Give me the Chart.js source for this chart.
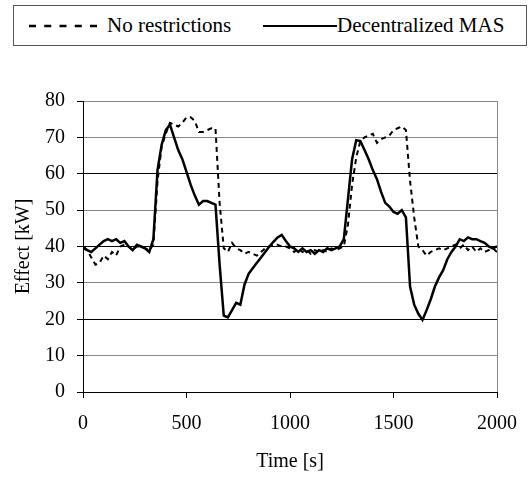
<!DOCTYPE html>
<html><head><meta charset="utf-8">
<script src="https://cdn.jsdelivr.net/npm/chart.js@4/dist/chart.umd.min.js"></script>
<style>
html,body{margin:0;padding:0;background:#fff;}
#wrap{position:relative;width:531px;height:477px;}
#c{position:absolute;left:0;top:0;}
#legend{position:absolute;left:13px;top:5px;width:514px;height:41px;border:1px solid #555;box-sizing:border-box;font-family:'Liberation Serif';font-size:21px;color:#000;background:#fff;}
.item{position:absolute;top:0;height:39px;line-height:39px;white-space:nowrap;}
.ln{position:absolute;top:18px;}
</style></head>
<body><div id="wrap"><canvas id="c" width="531" height="477"></canvas>
<div id="legend">
 <svg class="ln" style="left:15px" width="68" height="4"><line x1="0" y1="2" x2="68" y2="2" stroke="#000" stroke-width="2.5" stroke-dasharray="7,8.25"/></svg>
 <span class="item" style="left:93px">No restrictions</span>
 <svg class="ln" style="left:249px" width="74" height="4"><line x1="0" y1="2" x2="74" y2="2" stroke="#000" stroke-width="2"/></svg>
 <span class="item" style="left:323px">Decentralized MAS</span>
</div></div>
<script>
const times = [0,20,40,60,80,100,120,140,160,180,200,220,240,260,280,300,320,340,360,380,400,420,440,460,480,500,520,540,560,580,600,620,640,660,680,700,720,740,760,780,800,820,840,860,880,900,920,940,960,980,1000,1020,1040,1060,1080,1100,1120,1140,1160,1180,1200,1220,1240,1260,1280,1300,1320,1340,1360,1380,1400,1420,1440,1460,1480,1500,1520,1540,1560,1580,1600,1620,1640,1660,1680,1700,1720,1740,1760,1780,1800,1820,1840,1860,1880,1900,1920,1940,1960,1980,2000];
const noRestrictions = [39.5,39,37,35,35.5,37.5,36.5,38.5,37.5,40,40.5,40,39,40,40,39.5,39,40.5,58,67.5,71,74,73.5,73,74,75.5,75.5,74.5,71.5,71.5,72,72.5,72.5,52,39.5,38.5,41,39.5,39,38,38.5,38,37.5,38.5,39.5,40,40.5,40.5,40,40,39.5,38.5,39.5,38.5,39,38,39,38.5,39,38.5,39.5,39,39.5,40,46,57,64.5,69,70,70.5,71,68.5,69.5,70,70.5,72,72.5,73,72,58,48,40,39,37.5,38.5,39,39.5,39,39.5,40,40.5,39.5,40.5,39,40,38.5,39.5,38.5,39,39.5,38.5];
const decentralizedMAS = [40,39,38.5,39.5,40.5,41.5,42,41.5,42,41,41.5,40,39,40.5,40,39.5,38.5,42,61,68,72,73.5,70,66.5,64,60.5,57,54,51.5,52.5,52.5,52,51.5,35,21,20.5,22.5,24.5,24,29.5,32.5,34,35.5,37,38.5,40,41.3,42.5,43.2,41.5,40,39.5,38.5,39.5,38.5,39,38,39,38.5,39.5,39,39.5,40,42,53,64,69.2,69,66.5,64,61,58.5,55,52,51,49.5,49,50,48,29,24,21.5,19.8,22.5,25.5,29,31.5,33.5,36.5,38.5,40,42,41.5,42.5,42,42,41.5,41,40,39.5,40];
const yTicks = [0,10,20,30,40,50,60,70,80];
const xTicks = [0,500,1000,1500,2000];

const toPts = (arr) => arr.map((v,i)=>({x:times[i], y:v}));
Chart.defaults.font.family = "'Liberation Serif'";
const font = {family:"'Liberation Serif'", size:20};

new Chart(document.getElementById('c'), {
  type:'line',
  data:{datasets:[
    {label:'No restrictions', data:toPts(noRestrictions), borderColor:'#000', borderWidth:2, borderDash:[5,4], pointRadius:0, tension:0, fill:false},
    {label:'Decentralized MAS', data:toPts(decentralizedMAS), borderColor:'#000', borderWidth:2.5, pointRadius:0, tension:0, fill:false}
  ]},
  options:{
    responsive:false, animation:false,
    layout:{padding:{left:0, top:101, right:27, bottom:0}},
    plugins:{legend:{display:false}, tooltip:{enabled:false}},
    scales:{
      x:{type:'linear', min:0, max:2000,
        afterBuildTicks:(s)=>{s.ticks = xTicks.map(v=>({value:v}));},
        afterFit:(s)=>{s.height = 85;},
        ticks:{font, color:'#000', padding:14, maxRotation:0, autoSkip:false, callback:(v)=>String(v)},
        grid:{drawOnChartArea:true, color:(c)=> (c.tick && c.tick.value===2000) ? '#888' : 'rgba(0,0,0,0)', tickColor:'#000', tickLength:6, lineWidth:1},
        border:{color:'#000', width:1},
        title:{display:true, text:'Time [s]', font, color:'#000', padding:{top:0,bottom:3}}
      },
      y:{min:0, max:80,
        afterBuildTicks:(s)=>{s.ticks = yTicks.map(v=>({value:v}));},
        afterFit:(s)=>{s.width = 83;},
        ticks:{font, color:'#000', padding:12, callback:(v)=>String(v)},
        grid:{color:(c)=> { const v = c.tick ? c.tick.value : 0; return (v===20||v===40||v===60) ? '#000' : '#888'; }, tickColor:'#000', tickLength:6, lineWidth:1},
        border:{color:'#000', width:1},
        title:{display:true, text:'Effect [kW]', font, color:'#000', padding:{top:12,bottom:0}}
      }
    }
  }
});
</script>
</body></html>
